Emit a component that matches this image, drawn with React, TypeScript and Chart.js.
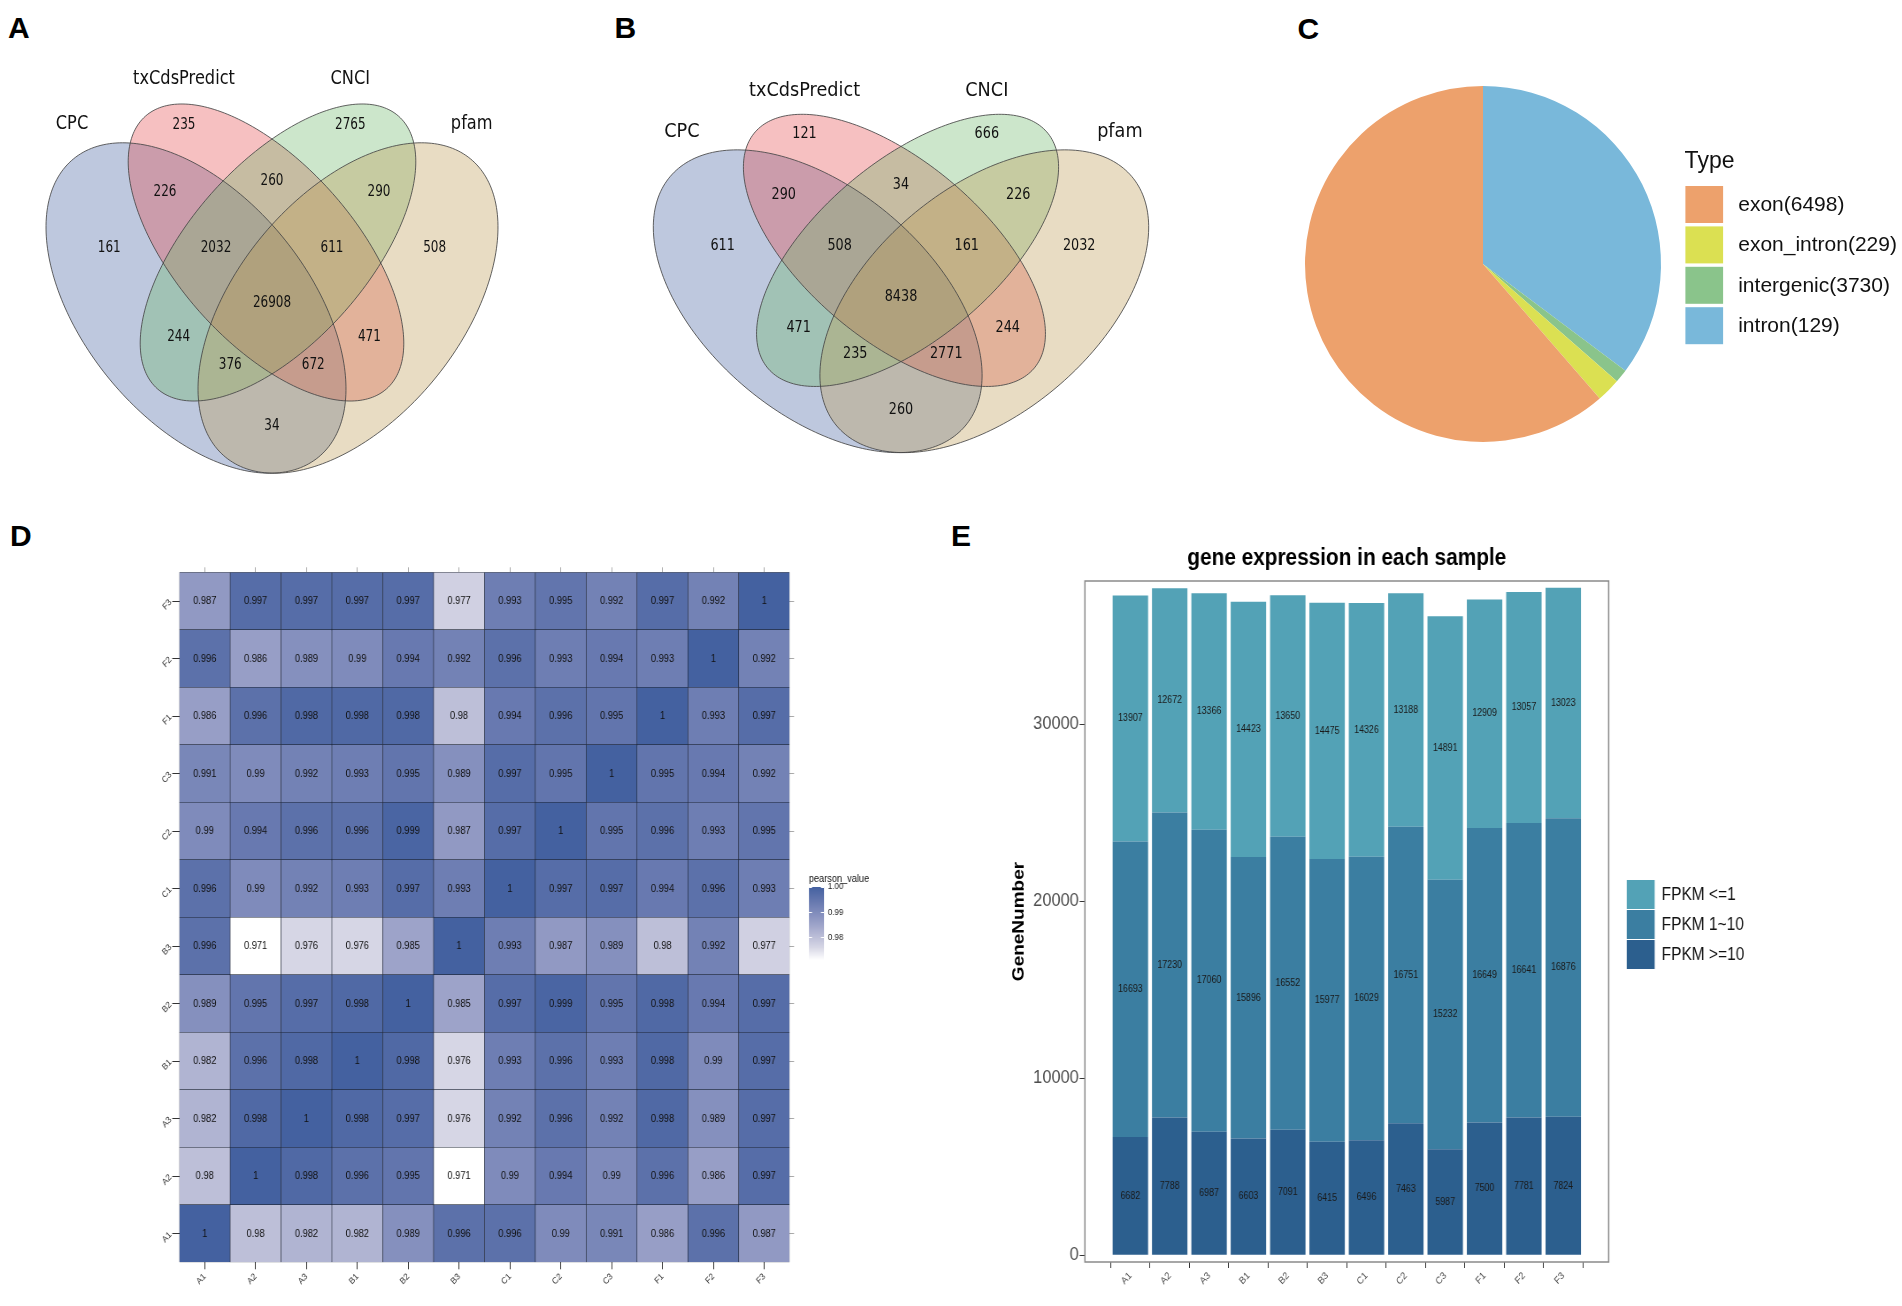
import React, { useEffect, useRef } from "react";
import { Chart, registerables } from "chart.js";

Chart.register(...registerables);
Chart.defaults.font.family = "'Liberation Sans', Arial, Helvetica, sans-serif";
Chart.defaults.color = "#333333";

// ================= DATA =================
// A / B : four-set Venn diagrams
const VENN_SETS = ["CPC", "txCdsPredict", "CNCI", "pfam"];
const VENN_REGIONS = [
  "CPC", "txCdsPredict", "CNCI", "pfam",
  "CPC&txCdsPredict", "txCdsPredict&CNCI", "CNCI&pfam", "CPC&CNCI", "txCdsPredict&pfam", "CPC&pfam",
  "CPC&txCdsPredict&CNCI", "txCdsPredict&CNCI&pfam", "CPC&CNCI&pfam", "CPC&txCdsPredict&pfam",
  "CPC&txCdsPredict&CNCI&pfam",
];
const VENN_COUNTS_A = [161, 235, 2765, 508, 226, 260, 290, 244, 471, 34, 2032, 611, 376, 672, 26908];
const VENN_COUNTS_B = [611, 121, 666, 2032, 290, 34, 226, 471, 244, 260, 508, 161, 235, 2771, 8438];

// C : pie
const TYPE_LABELS = ["exon(6498)", "exon_intron(229)", "intergenic(3730)", "intron(129)"];
const TYPE_SLICES = [6498, 229, 129, 3730];

// D : pearson heatmap (row sample x column sample)
const SAMPLES = ["A1", "A2", "A3", "B1", "B2", "B3", "C1", "C2", "C3", "F1", "F2", "F3"];
const PEARSON_A1 = [1, 0.98, 0.982, 0.982, 0.989, 0.996, 0.996, 0.99, 0.991, 0.986, 0.996, 0.987];
const PEARSON_A2 = [0.98, 1, 0.998, 0.996, 0.995, 0.971, 0.99, 0.994, 0.99, 0.996, 0.986, 0.997];
const PEARSON_A3 = [0.982, 0.998, 1, 0.998, 0.997, 0.976, 0.992, 0.996, 0.992, 0.998, 0.989, 0.997];
const PEARSON_B1 = [0.982, 0.996, 0.998, 1, 0.998, 0.976, 0.993, 0.996, 0.993, 0.998, 0.99, 0.997];
const PEARSON_B2 = [0.989, 0.995, 0.997, 0.998, 1, 0.985, 0.997, 0.999, 0.995, 0.998, 0.994, 0.997];
const PEARSON_B3 = [0.996, 0.971, 0.976, 0.976, 0.985, 1, 0.993, 0.987, 0.989, 0.98, 0.992, 0.977];
const PEARSON_C1 = [0.996, 0.99, 0.992, 0.993, 0.997, 0.993, 1, 0.997, 0.997, 0.994, 0.996, 0.993];
const PEARSON_C2 = [0.99, 0.994, 0.996, 0.996, 0.999, 0.987, 0.997, 1, 0.995, 0.996, 0.993, 0.995];
const PEARSON_C3 = [0.991, 0.99, 0.992, 0.993, 0.995, 0.989, 0.997, 0.995, 1, 0.995, 0.994, 0.992];
const PEARSON_F1 = [0.986, 0.996, 0.998, 0.998, 0.998, 0.98, 0.994, 0.996, 0.995, 1, 0.993, 0.997];
const PEARSON_F2 = [0.996, 0.986, 0.989, 0.99, 0.994, 0.992, 0.996, 0.993, 0.994, 0.993, 1, 0.992];
const PEARSON_F3 = [0.987, 0.997, 0.997, 0.997, 0.997, 0.977, 0.993, 0.995, 0.992, 0.997, 0.992, 1];
const PEARSON = [
  PEARSON_A1, PEARSON_A2, PEARSON_A3, PEARSON_B1, PEARSON_B2, PEARSON_B3,
  PEARSON_C1, PEARSON_C2, PEARSON_C3, PEARSON_F1, PEARSON_F2, PEARSON_F3,
];
const PEARSON_LEGEND_TICKS = [1.0, 0.99, 0.98];

// E : gene expression
const FPKM_HIGH = [6682, 7788, 6987, 6603, 7091, 6415, 6496, 7463, 5987, 7500, 7781, 7824];
const FPKM_MID = [16693, 17230, 17060, 15896, 16552, 15977, 16029, 16751, 15232, 16649, 16641, 16876];
const FPKM_LOW = [13907, 12672, 13366, 14423, 13650, 14475, 14326, 13188, 14891, 12909, 13057, 13023];
const GENE_TICKS = [0, 10000, 20000, 30000];

// ================= LAYOUT / STYLE =================
const SANS = "'Liberation Sans', Arial, Helvetica, sans-serif";
const VENN_FONT = "'DejaVu Sans', Verdana, sans-serif";

// venn geometry in venn units (x centred on the symmetry axis, y downward)
const REGION_ANCHORS = [
  [-162.7, 247.7], [-88, 125], [78.3, 125], [162.6, 247.7],
  [-107, 192], [0, 180.7], [107, 192], [-93.4, 337.3], [97.4, 337.3], [0, 426],
  [-56, 248], [60, 248], [-41.7, 365], [41.3, 365], [0, 303.3],
];
const SET_ANCHORS = [[-200, 123.3], [-88, 78.3], [78.3, 78.3], [199.7, 123.3]];
const ELLIPSES = [
  { cx: -76, cy: 308, a: 193, b: 112, rot: 50.6 },
  { cx: -6, cy: 252.5, a: 182, b: 89, rot: 48.5 },
  { cx: 6, cy: 252.5, a: 182, b: 89, rot: 131.5 },
  { cx: 76, cy: 308, a: 193, b: 112, rot: 129.4 },
];
const VENN_FILLS = [
  "rgba(69,98,161,0.35)",
  "rgba(229,75,78,0.35)",
  "rgba(109,184,106,0.35)",
  "rgba(189,155,84,0.35)",
];

const TYPE_COLORS = ["#EDA16C", "#DBE052", "#8AC48B", "#79B8DA"];
const FPKM_COLORS = ["#2C5F8E", "#3B7EA1", "#53A2B6"];

const HEAT_STOPS = [0.971, 0.976, 0.98, 0.985, 0.99, 0.995, 1.0];
const HEAT_RGB = [
  [255, 255, 255], [214, 214, 229], [189, 191, 216], [157, 163, 201],
  [127, 139, 187], [98, 117, 173], [68, 97, 160],
];

function heatColor(v: number): string {
  const s = HEAT_STOPS;
  const c = (a: number[]) => `rgb(${a[0]},${a[1]},${a[2]})`;
  if (v <= s[0]) return c(HEAT_RGB[0]);
  for (let i = 1; i < s.length; i++) {
    if (v <= s[i]) {
      const f = (v - s[i - 1]) / (s[i] - s[i - 1]);
      const a = HEAT_RGB[i - 1];
      const b = HEAT_RGB[i];
      return c([0, 1, 2].map((k) => Math.round(a[k] + (b[k] - a[k]) * f)));
    }
  }
  return c(HEAT_RGB[HEAT_RGB.length - 1]);
}

function squeezedText(ctx: CanvasRenderingContext2D, text: string, x: number, y: number, sx: number) {
  ctx.save();
  ctx.translate(x, y);
  ctx.scale(sx, 1);
  ctx.fillText(text, 0, 0);
  ctx.restore();
}

// ================= PLUGINS =================
type VennText = { numSize: number; numSx: number; labSize: number; labSx: number };

function vennPlugin(counts: number[], t: VennText) {
  return {
    id: "vennShapes",
    beforeDatasetsDraw(chart: any) {
      const { ctx } = chart;
      const xs = chart.scales.x;
      const ys = chart.scales.y;
      const paths = ELLIPSES.map((e) => {
        const p = new Path2D();
        const th = (e.rot * Math.PI) / 180;
        const n = 240;
        for (let k = 0; k <= n; k++) {
          const tt = (k / n) * 2 * Math.PI;
          const dx = e.a * Math.cos(tt);
          const dy = e.b * Math.sin(tt);
          const vx = e.cx + dx * Math.cos(th) - dy * Math.sin(th);
          const vy = e.cy + dx * Math.sin(th) + dy * Math.cos(th);
          const px = xs.getPixelForValue(vx);
          const py = ys.getPixelForValue(vy);
          if (k === 0) p.moveTo(px, py);
          else p.lineTo(px, py);
        }
        p.closePath();
        return p;
      });
      ctx.save();
      paths.forEach((p, i) => {
        ctx.fillStyle = VENN_FILLS[i];
        ctx.fill(p);
      });
      ctx.strokeStyle = "rgba(70,70,70,0.85)";
      ctx.lineWidth = 1;
      paths.forEach((p) => ctx.stroke(p));
      ctx.restore();
    },
    afterDatasetsDraw(chart: any) {
      const { ctx } = chart;
      ctx.save();
      ctx.fillStyle = "#111111";
      ctx.textAlign = "center";
      ctx.textBaseline = "middle";
      ctx.font = `${t.numSize}px ${VENN_FONT}`;
      chart.getDatasetMeta(0).data.forEach((pt: any, i: number) =>
        squeezedText(ctx, String(counts[i]), pt.x, pt.y, t.numSx)
      );
      ctx.font = `${t.labSize}px ${VENN_FONT}`;
      chart.getDatasetMeta(1).data.forEach((pt: any, i: number) =>
        squeezedText(ctx, VENN_SETS[i], pt.x, pt.y, t.labSx)
      );
      ctx.restore();
    },
  };
}

function vennConfig(counts: number[], t: VennText) {
  return {
    type: "scatter",
    data: {
      datasets: [
        {
          label: "regions",
          data: REGION_ANCHORS.map(([x, y], i) => ({ x, y, region: VENN_REGIONS[i] })),
          pointRadius: 0,
        },
        {
          label: "sets",
          data: SET_ANCHORS.map(([x, y]) => ({ x, y })),
          pointRadius: 0,
        },
      ],
    },
    options: {
      responsive: false,
      animation: false,
      events: [],
      layout: { padding: 0 },
      scales: {
        x: { type: "linear", min: -250, max: 250, display: false },
        y: { type: "linear", min: 60, max: 490, reverse: true, display: false },
      },
      plugins: { legend: { display: false }, tooltip: { enabled: false } },
    },
    plugins: [vennPlugin(counts, t)],
  };
}

const pieLegendPlugin = {
  id: "pieLegend",
  afterDraw(chart: any) {
    const { ctx } = chart;
    ctx.save();
    ctx.fillStyle = "#111111";
    ctx.textAlign = "left";
    ctx.textBaseline = "alphabetic";
    ctx.font = `23px ${SANS}`;
    ctx.fillText("Type", 394.6, 168);
    ctx.font = `21px ${SANS}`;
    ctx.textBaseline = "middle";
    TYPE_LABELS.forEach((lab, k) => {
      const y = 186 + k * 40.4;
      ctx.fillStyle = TYPE_COLORS[k];
      ctx.fillRect(395.4, y, 37.7, 37);
      ctx.fillStyle = "#111111";
      ctx.fillText(lab, 448.2, y + 19);
    });
    ctx.restore();
  },
};

function pieConfig() {
  return {
    type: "pie",
    data: {
      labels: [...TYPE_LABELS].reverse(),
      datasets: [
        {
          data: [...TYPE_SLICES].reverse(),
          backgroundColor: [...TYPE_COLORS].reverse(),
          borderWidth: 0,
        },
      ],
    },
    options: {
      responsive: false,
      animation: false,
      events: [],
      layout: { padding: { left: 15, top: 86, right: 241, bottom: 48 } },
      plugins: { legend: { display: false }, tooltip: { enabled: false } },
    },
    plugins: [pieLegendPlugin],
  };
}

const heatPlugin = {
  id: "heatExtras",
  afterDatasetsDraw(chart: any) {
    const { ctx } = chart;
    ctx.save();
    ctx.font = `10.5px ${SANS}`;
    ctx.fillStyle = "#111111";
    ctx.textAlign = "center";
    ctx.textBaseline = "middle";
    chart.data.datasets.forEach((_ds: any, r: number) => {
      chart.getDatasetMeta(r).data.forEach((el: any, c: number) => {
        ctx.fillText(String(PEARSON[r][c]), el.x, (el.y + el.base) / 2 + 0.5);
      });
    });
    ctx.restore();
  },
  afterDraw(chart: any) {
    const { ctx } = chart;
    const top = 337;
    const bottom = 410;
    const x0 = 801.1;
    const w = 17;
    const vmax = HEAT_STOPS[HEAT_STOPS.length - 1];
    const vmin = HEAT_STOPS[0];
    const yOf = (v: number) => top + ((vmax - v) / (vmax - vmin)) * (bottom - top);
    ctx.save();
    for (let py = top; py < bottom; py++) {
      const v = vmax - ((py + 0.5 - top) / (bottom - top)) * (vmax - vmin);
      ctx.fillStyle = heatColor(v);
      ctx.fillRect(x0, py, w, 1);
    }
    ctx.strokeStyle = "#ffffff";
    ctx.lineWidth = 1;
    PEARSON_LEGEND_TICKS.forEach((v) => {
      const y = Math.round(yOf(v)) + 0.5;
      ctx.beginPath();
      ctx.moveTo(x0, y);
      ctx.lineTo(x0 + 3.5, y);
      ctx.moveTo(x0 + w - 3.5, y);
      ctx.lineTo(x0 + w, y);
      ctx.stroke();
    });
    ctx.fillStyle = "#222222";
    ctx.font = `9px ${SANS}`;
    ctx.textAlign = "left";
    ctx.textBaseline = "middle";
    PEARSON_LEGEND_TICKS.forEach((v) => ctx.fillText(v.toFixed(2), 822.6, yOf(v)));
    ctx.font = `10.4px ${SANS}`;
    ctx.textBaseline = "alphabetic";
    ctx.fillStyle = "#111111";
    ctx.fillText("pearson_value", 801, 332);
    ctx.restore();
  },
};

const rowTicks = (s: any) => {
  s.ticks = SAMPLES.map((_n, i) => ({ value: i + 0.5 }));
};

function heatConfig() {
  return {
    type: "bar",
    data: {
      labels: SAMPLES,
      datasets: SAMPLES.map((name, r) => ({
        label: name,
        data: SAMPLES.map(() => [r, r + 1]),
        backgroundColor: PEARSON[r].map(heatColor),
        borderColor: "#1d2433",
        borderWidth: 0.6,
        borderSkipped: false,
        grouped: false,
        barPercentage: 1,
        categoryPercentage: 1,
      })),
    },
    options: {
      responsive: false,
      animation: false,
      events: [],
      layout: { padding: 0 },
      scales: {
        x: {
          type: "category",
          position: "bottom",
          offset: true,
          grid: { offset: false, drawOnChartArea: false, tickLength: 7, color: "#333333" },
          border: { display: false },
          ticks: { minRotation: 45, maxRotation: 45, autoSkip: false, font: { size: 9 }, color: "#333333", padding: 2 },
          afterFit: (s: any) => {
            s.height = 37.7;
          },
        },
        x2: {
          type: "category",
          position: "top",
          labels: SAMPLES,
          offset: true,
          grid: { offset: false, drawOnChartArea: false, tickLength: 5, color: "#aaaaaa" },
          border: { display: false },
          ticks: { display: false },
          afterFit: (s: any) => {
            s.height = 22.3;
          },
        },
        y: {
          type: "linear",
          position: "left",
          min: 0,
          max: 12,
          afterBuildTicks: rowTicks,
          ticks: {
            minRotation: 45,
            maxRotation: 45,
            autoSkip: false,
            font: { size: 9 },
            color: "#333333",
            padding: 2,
            callback: (v: number) => SAMPLES[Math.floor(v)],
          },
          grid: { drawOnChartArea: false, tickLength: 8, color: "#333333" },
          border: { display: false },
          afterFit: (s: any) => {
            s.width = 89.6;
          },
        },
        y2: {
          type: "linear",
          position: "right",
          min: 0,
          max: 12,
          afterBuildTicks: rowTicks,
          ticks: { display: false },
          grid: { drawOnChartArea: false, tickLength: 5, color: "#aaaaaa" },
          border: { display: false },
          afterFit: (s: any) => {
            s.width = 124.7;
          },
        },
      },
      plugins: { legend: { display: false }, tooltip: { enabled: false } },
    },
    plugins: [heatPlugin],
  };
}

const genePlugin = {
  id: "geneExtras",
  afterDatasetsDraw(chart: any) {
    const { ctx, chartArea } = chart;
    ctx.save();
    ctx.font = `10px ${SANS}`;
    ctx.fillStyle = "#1a1a1a";
    ctx.textAlign = "center";
    ctx.textBaseline = "middle";
    chart.data.datasets.forEach((ds: any, d: number) => {
      chart.getDatasetMeta(d).data.forEach((el: any, i: number) => {
        ctx.fillText(String(ds.data[i].y), el.x, (el.y + el.base) / 2);
      });
    });
    ctx.strokeStyle = "#8a8a8a";
    ctx.lineWidth = 1.5;
    ctx.strokeRect(chartArea.left, chartArea.top, chartArea.right - chartArea.left, chartArea.bottom - chartArea.top);
    ctx.restore();
  },
  afterDraw(chart: any) {
    const { ctx } = chart;
    const ds = chart.data.datasets;
    ctx.save();
    ctx.font = `17.5px ${SANS}`;
    ctx.textAlign = "left";
    ctx.textBaseline = "middle";
    [2, 1, 0].forEach((d, k) => {
      const y = 350 + k * 30;
      ctx.fillStyle = ds[d].backgroundColor;
      ctx.fillRect(719.8, y, 31.6, 29);
      ctx.fillStyle = "#111111";
      ctx.fillText(ds[d].label, 759.3, y + 15);
    });
    ctx.restore();
  },
};

function geneConfig() {
  const mk = (arr: number[]) => arr.map((v, i) => ({ x: i, y: v }));
  return {
    type: "bar",
    data: {
      datasets: [
        { label: "FPKM >=10", data: mk(FPKM_HIGH), backgroundColor: FPKM_COLORS[0] },
        { label: "FPKM 1~10", data: mk(FPKM_MID), backgroundColor: FPKM_COLORS[1] },
        { label: "FPKM <=1", data: mk(FPKM_LOW), backgroundColor: FPKM_COLORS[2] },
      ],
    },
    options: {
      responsive: false,
      animation: false,
      events: [],
      layout: { padding: { left: 0, top: 0, right: 331.6, bottom: 0 } },
      datasets: { bar: { barPercentage: 0.9, categoryPercentage: 1, borderWidth: 0 } },
      scales: {
        x: {
          type: "linear",
          stacked: true,
          min: -0.6,
          max: 11.6,
          afterBuildTicks: (s: any) => {
            s.ticks = SAMPLES.map((_n, i) => ({ value: i }));
          },
          ticks: {
            callback: (v: number) => SAMPLES[v],
            minRotation: 45,
            maxRotation: 45,
            autoSkip: false,
            font: { size: 10 },
            color: "#4D4D4D",
            padding: 2,
          },
          grid: { drawOnChartArea: false, tickLength: 6, color: "#333333" },
          border: { display: false },
          afterFit: (s: any) => {
            s.height = 44;
          },
        },
        y: {
          type: "linear",
          stacked: true,
          min: -377,
          max: 38100,
          afterBuildTicks: (s: any) => {
            s.ticks = GENE_TICKS.map((v) => ({ value: v }));
          },
          ticks: { callback: (v: number) => String(v), font: { size: 18.5 }, color: "#4D4D4D", padding: 1 },
          grid: { drawOnChartArea: false, tickLength: 6, color: "#333333" },
          border: { display: false },
          title: {
            display: true,
            text: "GeneNumber",
            font: { size: 19, weight: "bold" },
            color: "#000000",
            padding: { top: 21.4, bottom: 0 },
          },
          afterFit: (s: any) => {
            s.width = 107.3;
          },
        },
      },
      plugins: {
        legend: { display: false },
        tooltip: { enabled: false },
        title: {
          display: true,
          text: "gene expression in each sample",
          font: { size: 23.5, weight: "bold" },
          color: "#000000",
          padding: { top: 14, bottom: 8.8 },
          fullSize: false,
        },
      },
    },
    plugins: [genePlugin],
  };
}

// ================= COMPONENTS =================
type PanelProps = { left: number; top: number; width: number; height: number; sx?: number; config: () => any };

function ChartPanel({ left, top, width, height, sx = 1, config }: PanelProps) {
  const ref = useRef<HTMLCanvasElement | null>(null);
  const w = Math.round(width / sx);
  useEffect(() => {
    if (!ref.current) return;
    const chart = new Chart(ref.current, config());
    return () => chart.destroy();
  }, []);
  return (
    <div
      style={{
        position: "absolute",
        left,
        top,
        width: w,
        height,
        transform: sx !== 1 ? `scaleX(${width / w})` : undefined,
        transformOrigin: "0 0",
      }}
    >
      <canvas ref={ref} width={w} height={height} style={{ width: w, height, display: "block" }} />
    </div>
  );
}

function PanelLetter({ text, left, top }: { text: string; left: number; top: number }) {
  return (
    <div
      style={{
        position: "absolute",
        left,
        top,
        fontFamily: SANS,
        fontWeight: "bold",
        fontSize: 30,
        lineHeight: "30px",
        color: "#000",
      }}
    >
      {text}
    </div>
  );
}

export default function App() {
  return (
    <div
      style={{
        position: "absolute",
        left: 0,
        top: 0,
        width: 1902,
        height: 1306,
        overflow: "hidden",
        background: "#ffffff",
      }}
    >
      <PanelLetter text="A" left={8} top={13.1} />
      <PanelLetter text="B" left={614.5} top={13.1} />
      <PanelLetter text="C" left={1297.5} top={14.4} />
      <PanelLetter text="D" left={10} top={521.1} />
      <PanelLetter text="E" left={951} top={521.1} />
      <ChartPanel
        left={21.7}
        top={60}
        width={500}
        height={430}
        config={() => vennConfig(VENN_COUNTS_A, { numSize: 16, numSx: 0.75, labSize: 20, labSx: 0.81 })}
      />
      <ChartPanel
        left={626.8}
        top={73.5}
        width={548}
        height={394}
        config={() => vennConfig(VENN_COUNTS_B, { numSize: 16, numSx: 0.8, labSize: 19, labSx: 0.93 })}
      />
      <ChartPanel left={1290} top={0} width={612} height={490} config={pieConfig} />
      <ChartPanel left={100} top={550} width={800} height={750} sx={0.885} config={heatConfig} />
      <ChartPanel left={990} top={530} width={912} height={776} sx={0.885} config={geneConfig} />
    </div>
  );
}
